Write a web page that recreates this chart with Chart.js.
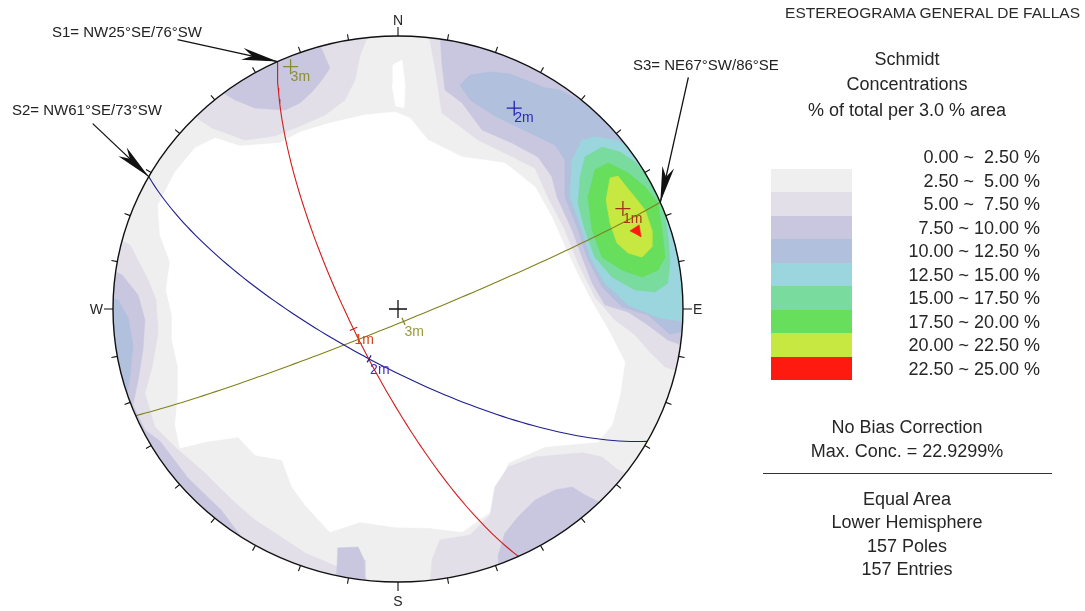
<!DOCTYPE html>
<html><head><meta charset="utf-8">
<script src="https://cdn.jsdelivr.net/npm/chart.js@4.4.1/dist/chart.umd.min.js"></script>
<style>
html,body{margin:0;padding:0;background:#fff;}
#wrap{position:relative;width:1085px;height:611px;overflow:hidden;font-family:"Liberation Sans",Arial,sans-serif;color:#262626;}
#c{position:absolute;left:0;top:0;}
.t{position:absolute;white-space:nowrap;line-height:1;}
</style></head><body>
<div id="wrap"><canvas id="c" width="1085" height="611"></canvas></div>
<script>
// ---------------- DATA ----------------
const planeNames = ['S1', 'S2', 'S3'];
const planeLabels = ['S1= NW25°SE/76°SW', 'S2= NW61°SE/73°SW', 'S3= NE67°SW/86°SE'];
const planeStrike = [335, 299, 67];
const planeDipDirection = [245, 209, 157];
const planeDip = [76, 73, 86];
const markLabels = ['1m', '2m', '3m'];
const directionLabels = ['N', 'E', 'S', 'W'];
const levelLabels = ['0.00 ~  2.50 %', '2.50 ~  5.00 %', '5.00 ~  7.50 %', '7.50 ~ 10.00 %', '10.00 ~ 12.50 %',
  '12.50 ~ 15.00 %', '15.00 ~ 17.50 %', '17.50 ~ 20.00 %', '20.00 ~ 22.50 %', '22.50 ~ 25.00 %'];
const infoTop = ['Schmidt', 'Concentrations', '% of total per 3.0 % area'];
const infoMid = ['No Bias Correction', 'Max. Conc. = 22.9299%'];
const infoBottom = ['Equal Area', 'Lower Hemisphere', '157 Poles', '157 Entries'];
const chartTitle = 'ESTEREOGRAMA GENERAL DE FALLAS';

// density contour areas (unit stereonet coordinates x=East, y=North), one list per level
const level0Areas = [ // 0 - 2.5 %
  [[-0.842,0.381],[-0.782,0.502],[-0.712,0.590],[-0.642,0.626],[-0.554,0.597],[-0.414,0.608],[-0.344,0.648],[-0.239,0.681],[-0.116,0.711],[-0.011,0.722],[0.042,0.700],[0.105,0.619],[0.225,0.557],[0.375,0.535],[0.481,0.447],[0.540,0.337],[0.586,0.227],[0.632,0.125],[0.681,0.026],[0.744,-0.088],[0.796,-0.194],[0.779,-0.315],[0.751,-0.425],[0.702,-0.487],[0.516,-0.505],[0.386,-0.564],[0.323,-0.744],[0.225,-0.817],[0.112,-0.802],[-0.011,-0.799],[-0.133,-0.780],[-0.239,-0.817],[-0.326,-0.718],[-0.372,-0.652],[-0.407,-0.553],[-0.502,-0.535],[-0.561,-0.469],[-0.677,-0.487],[-0.765,-0.509],[-0.782,-0.425],[-0.772,-0.315],[-0.772,-0.212],[-0.793,-0.114],[-0.793,-0.022],[-0.814,0.070],[-0.800,0.172],[-0.835,0.271]],
  [[-0.018,0.894],[0.014,0.912],[0.025,0.821],[0.021,0.736],[-0.008,0.744],[-0.021,0.821]]
];
const level1Areas = [ // 2.5 - 5 %
  [[-1.2,-1.2],[1.2,-1.2],[1.2,1.2],[-1.2,1.2]]
];
const level2Areas = [ // 5 - 7.5 %
  [[-0.737,0.722],[-0.653,0.663],[-0.537,0.619],[-0.432,0.634],[-0.344,0.670],[-0.256,0.711],[-0.186,0.766],[-0.151,0.839],[-0.133,0.930],[-0.098,1.022],[-0.554,1.022],[-0.782,0.729]],
  [[0.095,1.059],[0.112,0.985],[0.133,0.864],[0.154,0.718],[0.281,0.619],[0.375,0.571],[0.481,0.516],[0.526,0.410],[0.586,0.289],[0.632,0.168],[0.691,0.044],[0.761,-0.040],[0.832,-0.095],[0.884,-0.158],[0.937,-0.212],[1.025,-0.242],[1.060,0.033],[0.884,0.692],[0.533,1.059]],
  [[-1.046,0.289],[-0.940,0.234],[-0.877,0.106],[-0.849,0.033],[-0.842,-0.088],[-0.863,-0.212],[-0.888,-0.308],[-0.853,-0.432],[-0.772,-0.516],[-0.677,-0.601],[-0.582,-0.700],[-0.502,-0.773],[-0.421,-0.828],[-0.326,-0.894],[-0.211,-0.945],[-0.116,-0.982],[-0.063,-1.066],[-1.046,-1.066]],
  [[0.112,-1.029],[0.119,-0.919],[0.147,-0.846],[0.253,-0.828],[0.323,-0.755],[0.340,-0.652],[0.386,-0.579],[0.481,-0.542],[0.646,-0.527],[0.716,-0.542],[0.772,-0.590],[0.849,-0.626],[0.709,-0.919]]
];
const level3Areas = [ // 7.5 - 10 %
  [[-0.618,0.795],[-0.572,0.766],[-0.502,0.736],[-0.396,0.729],[-0.344,0.755],[-0.302,0.795],[-0.267,0.839],[-0.239,0.883],[-0.274,0.967],[-0.554,0.930]],
  [[0.147,1.022],[0.154,0.901],[0.165,0.802],[0.225,0.755],[0.295,0.656],[0.400,0.608],[0.491,0.557],[0.540,0.484],[0.558,0.410],[0.611,0.289],[0.646,0.190],[0.681,0.095],[0.726,0.015],[0.807,-0.011],[0.877,-0.059],[0.947,-0.114],[1.042,-0.150],[1.060,0.399],[0.568,1.059]],
  [[-1.046,0.161],[-0.968,0.125],[-0.912,0.051],[-0.888,-0.040],[-0.895,-0.150],[-0.912,-0.260],[-0.930,-0.352],[-0.888,-0.443],[-0.835,-0.484],[-0.737,-0.619],[-0.621,-0.736],[-0.554,-0.828],[-0.695,-0.956],[-1.081,-0.516]],
  [[-0.211,-0.875],[-0.140,-0.872],[-0.119,-0.919],[-0.116,-1.029],[-0.218,-1.029]],
  [[0.351,-0.905],[0.375,-0.821],[0.421,-0.762],[0.481,-0.700],[0.551,-0.663],[0.611,-0.652],[0.656,-0.681],[0.726,-0.718],[0.568,-0.993],[0.358,-0.974]]
];
const level4Areas = [ // 10 - 12.5 %
  [[0.218,0.821],[0.253,0.857],[0.323,0.868],[0.393,0.861],[0.463,0.832],[0.516,0.810],[0.568,0.802],[0.632,0.766],[0.681,0.747],[0.779,0.766],[1.060,0.216],[1.025,-0.077],[0.954,-0.092],[0.877,-0.022],[0.786,0.007],[0.716,0.081],[0.663,0.190],[0.632,0.289],[0.586,0.410],[0.586,0.546],[0.551,0.601],[0.456,0.648],[0.340,0.707],[0.253,0.766]],
  [[-1.046,0.051],[-0.982,0.033],[-0.947,-0.033],[-0.930,-0.132],[-0.940,-0.242],[-0.954,-0.333],[-1.046,-0.370]]
];
const level5Areas = [ // 12.5 - 15 %
  [[0.646,0.619],[0.691,0.630],[0.761,0.619],[0.832,0.582],[0.989,0.399],[1.060,0.033],[1.025,-0.048],[0.919,-0.033],[0.807,0.015],[0.726,0.095],[0.674,0.190],[0.646,0.289],[0.604,0.410],[0.611,0.546]]
];
const level6Areas = [ // 15 - 17.5 %
  [[0.656,0.557],[0.716,0.593],[0.779,0.575],[0.832,0.538],[0.884,0.473],[0.930,0.381],[0.947,0.271],[0.954,0.172],[0.947,0.095],[0.902,0.062],[0.832,0.070],[0.751,0.117],[0.691,0.190],[0.656,0.289],[0.632,0.388],[0.639,0.484]]
];
const level7Areas = [ // 17.5 - 20 %
  [[0.691,0.509],[0.737,0.535],[0.807,0.498],[0.867,0.447],[0.912,0.388],[0.926,0.289],[0.937,0.190],[0.912,0.143],[0.856,0.117],[0.786,0.143],[0.716,0.190],[0.681,0.289],[0.667,0.410]]
];
const level8Areas = [ // 20 - 22.5 %
  [[0.744,0.480],[0.772,0.487],[0.800,0.450],[0.835,0.405],[0.867,0.363],[0.891,0.289],[0.891,0.227],[0.856,0.190],[0.807,0.205],[0.768,0.242],[0.744,0.315],[0.730,0.399]]
];
const level9Areas = [ // 22.5 - 25 %
  [[0.814,0.286],[0.846,0.308],[0.853,0.264],[0.835,0.275]]
];

// ---------------- STYLE ----------------
const levelColors = ['#ffffff', '#efefef', '#e3dfe9', '#c9c7df', '#b1c0dd', '#9bd6de', '#79db9d', '#67de5c', '#c7e840', '#ff1a10'];
const planeColors = ['#d01c1c', '#1e1e8e', '#80801c'];
const poleCrossColors = ['#a0301c', '#2222b0', '#8a8a30'];
const poleLabelColors = ['#a8321e', '#2a2ab8', '#8c8c34'];
const dipLabelColors = ['#d2461c', '#4a2ccc', '#9a9a3a'];
const arrowTailOffset = [[-100, -22], [-56, -53], [28, -125]];
const planeLabelBox = [[52, 31], [12, 109], [633, 64]];

// ---------------- GEOMETRY (equal-area, lower hemisphere) ----------------
const D2R = Math.PI / 180;
function project(e, n, d) {
  if (d < 0) { e = -e; n = -n; d = -d; }
  const h = Math.hypot(e, n);
  const r = Math.sqrt(Math.max(0, 1 - d));
  if (h < 1e-12) return { x: 0, y: 0 };
  return { x: r * e / h, y: r * n / h };
}
function planeVectors(i) {
  const dd = planeDipDirection[i] * D2R, dp = planeDip[i] * D2R, st = planeStrike[i] * D2R;
  return {
    s: [Math.sin(st), Math.cos(st), 0],
    d: [Math.sin(dd) * Math.cos(dp), Math.cos(dd) * Math.cos(dp), Math.sin(dp)],
    p: [-Math.sin(dd) * Math.sin(dp), -Math.cos(dd) * Math.sin(dp), Math.cos(dp)]
  };
}
function greatCircle(i) {
  const v = planeVectors(i), pts = [];
  for (let t = 0; t <= 180; t += 2) {
    const c = Math.cos(t * D2R), s = Math.sin(t * D2R);
    pts.push(project(c * v.s[0] + s * v.d[0], c * v.s[1] + s * v.d[1], c * v.s[2] + s * v.d[2]));
  }
  return pts;
}
const polePoints = planeNames.map((_, i) => { const v = planeVectors(i); return project(v.p[0], v.p[1], v.p[2]); });
const dipPoints = planeNames.map((_, i) => { const v = planeVectors(i); return project(v.d[0], v.d[1], v.d[2]); });

// ---------------- DATASETS ----------------
const datasets = [];
const allLevels = [level1Areas, level0Areas, level2Areas, level3Areas, level4Areas, level5Areas, level6Areas, level7Areas, level8Areas, level9Areas];
const levelIndex = [1, 0, 2, 3, 4, 5, 6, 7, 8, 9];
allLevels.forEach((areas, k) => {
  areas.forEach(poly => {
    const pts = poly.map(p => ({ x: p[0], y: p[1] }));
    pts.push({ x: poly[0][0], y: poly[0][1] });
    datasets.push({
      data: pts, order: 200 - k * 10, fill: 'shape',
      backgroundColor: levelColors[levelIndex[k]], borderColor: levelColors[levelIndex[k]],
      borderWidth: 0.6, pointRadius: 0, tension: 0
    });
  });
});
planeNames.forEach((name, i) => {
  datasets.push({ label: name, data: greatCircle(i), order: 30, fill: false, borderColor: planeColors[i], borderWidth: 1.1, pointRadius: 0, tension: 0 });
  datasets.push({ data: [dipPoints[i]], order: 20, showLine: false, pointStyle: 'line', pointRadius: 4,
    rotation: planeDipDirection[i] - 90, pointBorderColor: planeColors[i], pointBorderWidth: 1.2 });
  datasets.push({ data: [polePoints[i]], order: 10, showLine: false, pointStyle: 'cross', pointRadius: 7.5,
    pointBorderColor: poleCrossColors[i], pointBorderWidth: 1.3 });
});
datasets.push({ data: [{ x: 0, y: 0 }], order: 5, showLine: false, pointStyle: 'cross', pointRadius: 9, pointBorderColor: '#111', pointBorderWidth: 1.3 });

// ---------------- PLUGINS ----------------
function geo(chart) {
  const xs = chart.scales.x, ys = chart.scales.y;
  const cx = xs.getPixelForValue(0), cy = ys.getPixelForValue(0);
  return { cx, cy, rx: xs.getPixelForValue(1) - cx, ry: cy - ys.getPixelForValue(1) };
}
function drawArrow(ctx, tx, ty, fx, fy) {
  ctx.beginPath(); ctx.moveTo(fx, fy); ctx.lineTo(tx, ty); ctx.lineWidth = 1.3; ctx.strokeStyle = '#111'; ctx.stroke();
  const ang = Math.atan2(ty - fy, tx - fx);
  ctx.save(); ctx.translate(tx, ty); ctx.rotate(ang);
  ctx.beginPath(); ctx.moveTo(0, 0); ctx.lineTo(-36, -6); ctx.lineTo(-26, 0); ctx.lineTo(-36, 6); ctx.closePath();
  ctx.fillStyle = '#111'; ctx.fill(); ctx.restore();
}
const stereoPlugin = {
  id: 'stereo',
  beforeDatasetsDraw(chart) {
    const g = geo(chart), ctx = chart.ctx;
    ctx.save(); ctx.beginPath(); ctx.ellipse(g.cx, g.cy, g.rx, g.ry, 0, 0, Math.PI * 2); ctx.clip();
  },
  afterDatasetsDraw(chart) {
    const g = geo(chart), ctx = chart.ctx;
    ctx.restore();
    ctx.save();
    ctx.beginPath(); ctx.ellipse(g.cx, g.cy, g.rx, g.ry, 0, 0, Math.PI * 2);
    ctx.lineWidth = 1.4; ctx.strokeStyle = '#111'; ctx.stroke();
    ctx.beginPath();
    for (let a = 0; a < 360; a += 10) {
      const s = Math.sin(a * D2R), c = Math.cos(a * D2R);
      const x0 = g.cx + g.rx * s, y0 = g.cy - g.ry * c, L = a % 90 === 0 ? 9 : 6;
      ctx.moveTo(x0, y0); ctx.lineTo(x0 + L * s, y0 - L * c);
    }
    ctx.lineWidth = 1.1; ctx.stroke();
    planeNames.forEach((_, i) => {
      const a = planeStrike[i] * D2R;
      const tx = g.cx + g.rx * Math.sin(a), ty = g.cy - g.ry * Math.cos(a);
      drawArrow(ctx, tx, ty, tx + arrowTailOffset[i][0], ty + arrowTailOffset[i][1]);
    });
    ctx.restore();
  },
  afterRender(chart) {
    if (chart.$labelsDone) return; chart.$labelsDone = true;
    const wrap = document.getElementById('wrap');
    const g = geo(chart), xs = chart.scales.x, ys = chart.scales.y;
    const add = (txt, css) => { const el = document.createElement('div'); el.className = 't'; el.textContent = txt; Object.assign(el.style, css); wrap.appendChild(el); return el; };
    const fs = 14;
    add(directionLabels[0], { left: g.cx + 'px', top: (g.cy - g.ry - 16 - fs / 2) + 'px', fontSize: fs + 'px', transform: 'translateX(-50%)' });
    add(directionLabels[1], { left: (g.cx + g.rx + 10) + 'px', top: (g.cy - fs / 2) + 'px', fontSize: fs + 'px' });
    add(directionLabels[2], { left: g.cx + 'px', top: (g.cy + g.ry + 19 - fs / 2) + 'px', fontSize: fs + 'px', transform: 'translateX(-50%)' });
    add(directionLabels[3], { right: (1085 - (g.cx - g.rx - 10)) + 'px', top: (g.cy - fs / 2) + 'px', fontSize: fs + 'px' });
    markLabels.forEach((m, i) => {
      const pp = polePoints[i], dp = dipPoints[i];
      add(m, { left: xs.getPixelForValue(pp.x) + 'px', top: (ys.getPixelForValue(pp.y) + 2) + 'px', fontSize: '14px', color: poleLabelColors[i] });
      add(m, { left: (xs.getPixelForValue(dp.x) + 1) + 'px', top: (ys.getPixelForValue(dp.y) + 3) + 'px', fontSize: '14px', color: dipLabelColors[i] });
    });
    planeLabels.forEach((t, i) => {
      add(t, { left: planeLabelBox[i][0] + 'px', top: (planeLabelBox[i][1] - 7.5) + 'px', fontSize: '15px', color: '#222' });
    });
  }
};

new Chart(document.getElementById('c'), {
  type: 'line',
  data: { datasets },
  options: {
    responsive: false, animation: false, devicePixelRatio: 1, events: [],
    layout: { padding: { left: 113, right: 402, top: 36, bottom: 29 } },
    scales: {
      x: { type: 'linear', min: -1, max: 1, display: false },
      y: { type: 'linear', min: -1, max: 1, display: false }
    },
    plugins: { legend: { display: false }, tooltip: { enabled: false }, filler: { drawTime: 'beforeDatasetDraw', propagate: false } }
  },
  plugins: [stereoPlugin]
});

// ---------------- RIGHT PANEL ----------------
(function () {
  const wrap = document.getElementById('wrap');
  const add = (txt, css) => { const el = document.createElement('div'); el.className = 't'; el.textContent = txt; Object.assign(el.style, css); wrap.appendChild(el); return el; };
  add(chartTitle, { right: '5px', top: (12.5 - 7.75) + 'px', fontSize: '15.5px', color: '#2a2a2a' });
  const FS = 18, CX = 907;
  const centered = (txt, cy) => add(txt, { left: CX + 'px', top: (cy - FS / 2) + 'px', fontSize: FS + 'px', transform: 'translateX(-50%)' });
  infoTop.forEach((t, i) => centered(t, 58.5 + i * 25.5));
  levelLabels.forEach((t, i) => {
    add(t, { right: (1085 - 1040) + 'px', top: (157 + 23.5 * i - FS / 2) + 'px', fontSize: FS + 'px', whiteSpace: 'pre' });
    if (i > 0) {
      const sw = document.createElement('div');
      Object.assign(sw.style, { position: 'absolute', left: '771px', width: '81px', top: (157 + 23.5 * i - 11.75) + 'px', height: '23.6px', background: levelColors[i] });
      wrap.appendChild(sw);
    }
  });
  infoMid.forEach((t, i) => centered(t, 427 + i * 23.5));
  const line = document.createElement('div');
  Object.assign(line.style, { position: 'absolute', left: '763px', width: '289px', top: '472.5px', height: '1.5px', background: '#333' });
  wrap.appendChild(line);
  infoBottom.forEach((t, i) => centered(t, 498.5 + i * 23.5));
})();
</script>
</body></html>
